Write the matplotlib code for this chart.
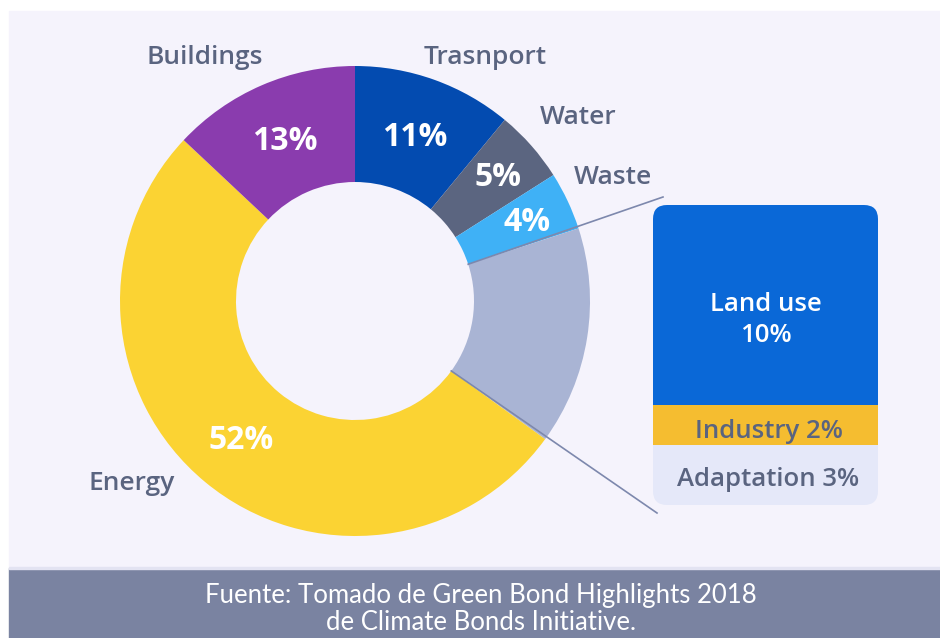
import numpy as np
import matplotlib
matplotlib.use("Agg")
from matplotlib import pyplot as plt
from matplotlib.patches import Rectangle, FancyBboxPatch

# donut data (clockwise from top)
sectors = ["Trasnport", "Water", "Waste", "Other", "Energy", "Buildings"]
shares = [11, 5, 4, 15, 52, 13]
colors = ["#034bb0", "#5b6580", "#3fb1f6", "#a9b4d4", "#fbd333", "#8a3cae"]
pct_labels = ["11%", "5%", "4%", "", "52%", "13%"]

# breakdown of "Other"
sub_names = ["Adaptation 3%", "Industry 2%", "Land use\n10%"]
sub_vals = [3, 2, 10]
sub_colors = ["#e5e8f9", "#f5bd30", "#0a68d7"]
sub_text = ["#5a6480", "#5a6480", "white"]
sub_shift = [-5, -7, -15]   # nudge text within each band

BG = "#f5f3fc"
TXT = "#5a6480"
H = 638

plt.rcParams['font.family'] = ['Open Sans', 'DejaVu Sans']
fig = plt.figure(figsize=(9.4, 6.38), dpi=100, facecolor="white")
ax = fig.add_axes([0, 0, 1, 1])
ax.set_xlim(0, 940)
ax.set_ylim(0, H)
ax.set_aspect("equal")
ax.axis("off")

def Y(y):
    return H - y

# background panel and banner
ax.add_patch(Rectangle((9, Y(568)), 931, 568 - 11, color=BG, zorder=0))
ax.add_patch(Rectangle((9, 0), 931, H - 568, color="#7a83a1", zorder=0))
ax.add_patch(Rectangle((9, Y(569)), 931, 2, color="#e3e3f2", zorder=0))

cx, cy, R, r = 355, Y(301), 235, 119
wedges, _ = ax.pie(shares, colors=colors, startangle=90, counterclock=False,
                   center=(cx, cy), radius=R,
                   wedgeprops=dict(width=R - r, linewidth=0))
ax.set_xlim(0, 940)
ax.set_ylim(0, H)

# percent labels inside ring
label_r = [176, 190, 190, 0, 178, 176]
angle = 90.0
for s, lab, lr in zip(shares, pct_labels, label_r):
    mid = angle - s * 3.6 / 2
    angle -= s * 3.6
    if not lab:
        continue
    ax.text(cx + lr * np.cos(np.radians(mid)), cy + lr * np.sin(np.radians(mid)) - 2,
            lab, ha="center", va="center", color="white", fontsize=23,
            fontweight="bold")

# outer labels
outer = {"Buildings": (205, 57), "Trasnport": (485, 57), "Water": (578, 118),
         "Waste": (613, 178), "Energy": (132, 483)}
for name, (x, y) in outer.items():
    ax.text(x, Y(y), name, ha="center", va="center", color=TXT, fontsize=19,
            fontweight="semibold")

# stacked breakdown box
bx, bw, btop, bh = 653, 225, 205, 300
scale = bh / sum(sub_vals)
clip = FancyBboxPatch((bx, Y(btop + bh)), bw, bh,
                      boxstyle="round,pad=0,rounding_size=14",
                      facecolor="none", edgecolor="none")
ax.add_patch(clip)
bottom = Y(btop + bh)
bars = ax.bar([bx + bw / 2] * 3, [v * scale for v in sub_vals], width=bw,
              bottom=np.concatenate([[0], np.cumsum(sub_vals[:-1])]) * scale + bottom,
              color=sub_colors, linewidth=0, zorder=2)
for b, name, tc, dy in zip(bars, sub_names, sub_text, sub_shift):
    b.set_clip_path(clip)
    yc = b.get_y() + b.get_height() / 2
    multi = "\n" in name
    ax.text(bx + bw / 2 + (3 if not multi else 0), yc + dy,
            name, ha="center", va="center", color=tc, fontsize=18.5,
            fontweight="semibold", linespacing=1.3, zorder=3)

# connector lines from "Other" slice edges to box
a0 = 90 - sum(shares[:3]) * 3.6
a1 = 90 - sum(shares[:4]) * 3.6
for a, end in ((a0, (663, Y(197))), (a1, (657, Y(513)))):
    p = (cx + r * np.cos(np.radians(a)), cy + r * np.sin(np.radians(a)))
    ax.plot([p[0], end[0]], [p[1], end[1]], color="#7d88ad", lw=1.2, zorder=4)

# source note
ax.text(481, Y(596), "Fuente: Tomado de Green Bond Highlights 2018",
        ha="center", va="center", color="white", fontsize=18.5, family=["Lato", "DejaVu Sans"])
ax.text(481, Y(623), "de Climate Bonds Initiative.",
        ha="center", va="center", color="white", fontsize=18.5, family=["Lato", "DejaVu Sans"])

fig.savefig("out.png", dpi=100, facecolor="white")
